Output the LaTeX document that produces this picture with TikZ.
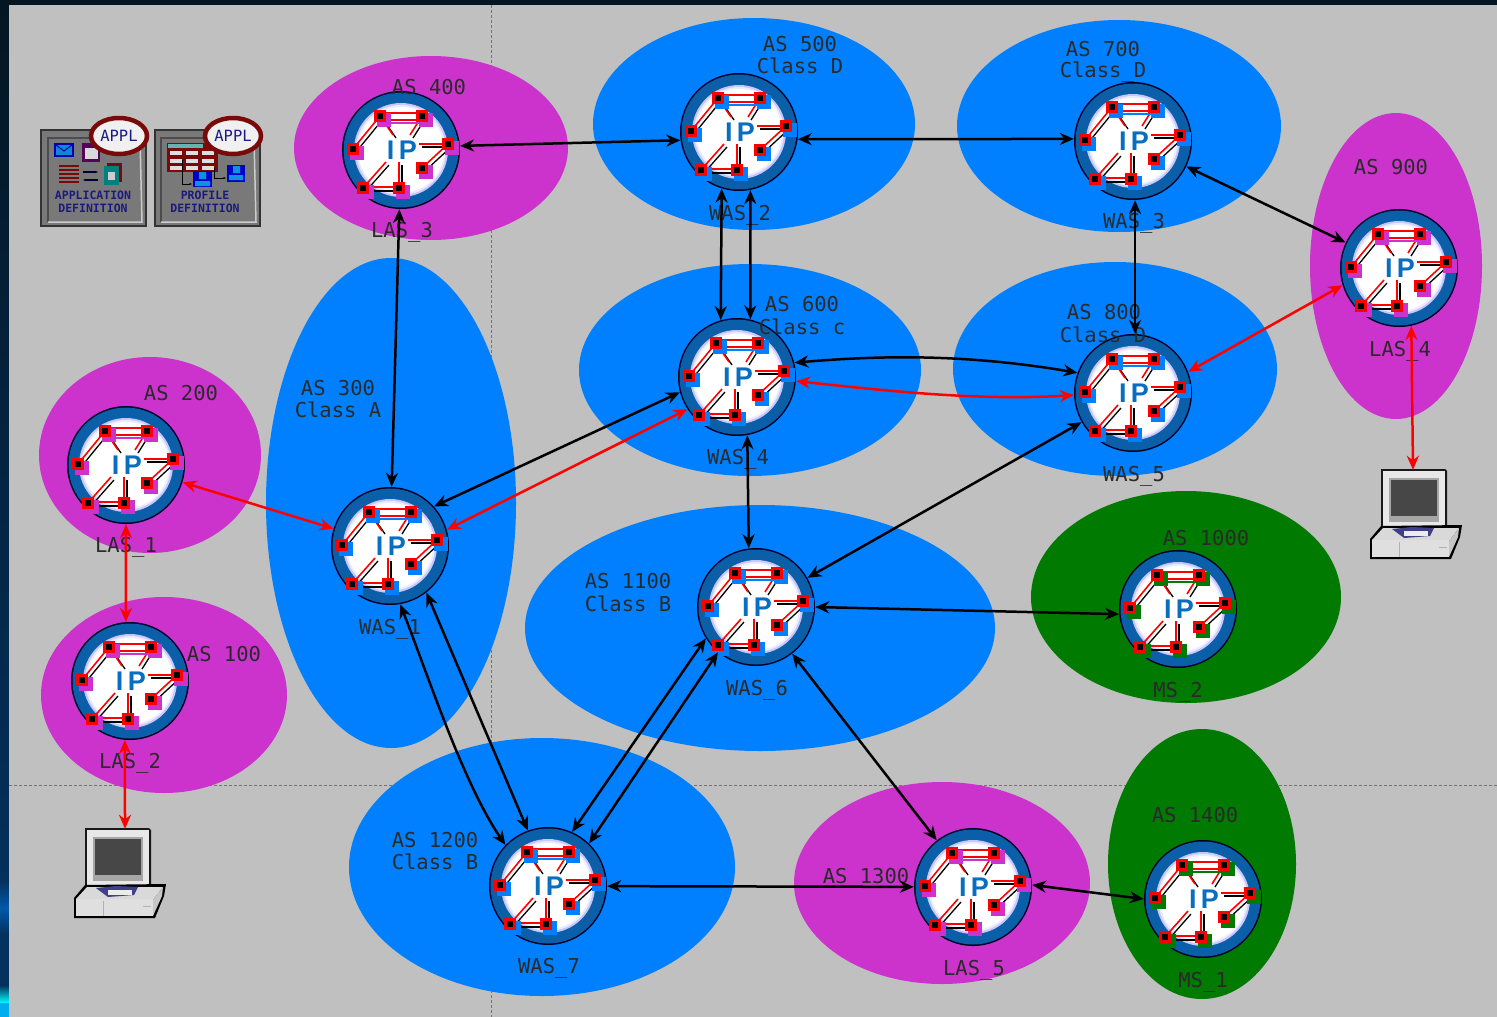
\documentclass[tikz,border=0pt]{standalone}
\usepackage{fontspec}
\setmainfont{DejaVu Sans Mono}
\newfontfamily\ipfont{Liberation Sans}
\usetikzlibrary{arrows.meta,shapes.geometric,bending}
\definecolor{bggray}{HTML}{C0C0C0}
\definecolor{asblue}{HTML}{0080FF}
\definecolor{asmag}{HTML}{CC33CC}
\definecolor{asgreen}{HTML}{007A00}
\definecolor{ringblue}{HTML}{0B5FA8}
\definecolor{ipblue}{HTML}{0A6EC0}
\definecolor{navytxt}{HTML}{1A1A80}
\definecolor{darkred}{HTML}{7A0A0A}
\definecolor{lblgray}{HTML}{2A2A2A}
\definecolor{edgedark}{HTML}{041622}
\definecolor{edgenavy}{HTML}{03305C}
\definecolor{edgeblue}{HTML}{0058A8}
\newcommand{\rsq}[3]{%
  \fill[#3] (#1-3,#2-3) rectangle ++(14,14);
  \fill[red] (#1-6,#2-6) rectangle ++(12,12);
  \fill[black] (#1-3,#2-3) rectangle ++(6,6);}
\tikzset{
  x=1pt,y=-1pt,
  asarea/.style={ellipse,draw=none,fill=#1,inner sep=0pt},
  routernode/.style={circle,minimum size=118pt,inner sep=0pt,draw=none},
  pcnode/.style={rectangle,minimum width=64pt,minimum height=56pt,inner sep=0pt,draw=none},
  lbl/.style={font=\fontsize{20.5}{21}\selectfont,text=lblgray,inner sep=0pt,align=left},
  link/.style={{Stealth[length=14pt,width=12pt]}-{Stealth[length=14pt,width=12pt]},line width=2.5pt,black},
  redlink/.style={link,red},
  defbox/.style={fill=gray!95!black,draw=black!80,line width=2pt},
  defname/.style={font=\fontsize{11.5}{12.5}\selectfont\bfseries,text=navytxt,align=center,inner sep=0pt},
  applname/.style={ellipse,draw=darkred,line width=4.5pt,fill=white!88!gray,minimum width=56pt,minimum height=36pt,inner sep=0pt,font=\fontsize{15.5}{15.5}\selectfont,text=navytxt},
  pics/router/.style={code={
    \fill[black!85!blue] (0,0) circle[radius=59pt];
    \fill[ringblue] (0,0) circle[radius=57.5pt];
    \fill[blue!22!white] (0,0) circle[radius=47pt];
    \fill[blue!8!white] (0,0) circle[radius=45pt];
    \fill[white] (0,0) circle[radius=43pt];
    \foreach \a/\b/\c/\d in {-21/-34/-48/-1,-21/-34/-8/-15,21/-34/9/-15,47/-6/18/-6,47/-6/21/18,-2/38/-2/12,-38/38/-15/12}{
      \draw[black,line width=1.3pt] (\a+3,\b+3) -- (\c+3,\d+3);
      \draw[red,line width=1.6pt] (\a,\b) -- (\c,\d);}
    \draw[red,line width=1.6pt] (-21,-37) -- (21,-37);
    \draw[red,line width=1.6pt] (-21,-30) -- (21,-30);
    \draw[#1,line width=1.6pt] (-21,-27) -- (21,-27);
    \draw[red,line width=1.6pt] (-38,37) -- (-2,37);
    \draw[black,line width=1.2pt] (-30,41) -- (-8,41);
    \rsq{-21}{-34}{#1}\rsq{21}{-34}{#1}\rsq{47}{-6}{#1}\rsq{21}{18}{#1}
    \rsq{-2}{38}{#1}\rsq{-38}{38}{#1}\rsq{-48}{-1}{#1}
    \node[font=\ipfont\bfseries\fontsize{27}{27}\selectfont,text=ipblue,inner sep=0pt] at (1,0) {I\,P};
  }},
  pics/desktop/.style={code={
    % origin = monitor centre
    \fill[black!90] (-33,-29) -- (31,-29) -- (33,-27) -- (33,29) -- (-33,29) -- cycle;
    \fill[gray!18] (-31,-27) rectangle (31,28);
    \fill[gray!70] (-25,-20) rectangle (25,24);
    \fill[black!72] (-23,-18) rectangle (23,18);
    \fill[black] (-44,41) -- (-33,28) -- (48,27) -- (46,39) -- (37,61) -- (-44,61) -- cycle;
    \fill[gray!30] (-42,42) -- (-31,30) -- (45,30) -- (35,43) -- cycle;
    \fill[gray!25] (-42,42) rectangle (35,59);
    \fill[gray!45] (35,43) -- (45,30) -- (44,39) -- (35,59) -- cycle;
    \fill[black!45!blue!50!gray] (-22,31) -- (-2,29) -- (20,30) -- (16,38) -- (-10,40) -- cycle;
    \fill[gray!15] (-10,33) rectangle (14,38);
    \draw[gray!60,line width=.6pt] (-15,44) -- (-15,59) (25,49) -- (33,49);
  }},
}
\begin{document}
\begin{tikzpicture}
\useasboundingbox (0,0) rectangle (1497,1017);
% background
\fill[edgedark] (0,0) rectangle (1497,5);
\shade[top color=edgedark,bottom color=edgenavy] (0,0) rectangle (9,880);
\shade[top color=edgenavy,bottom color=edgeblue] (0,880) rectangle (9,908);
\shade[top color=edgeblue,bottom color=edgenavy] (0,908) rectangle (9,935);
\fill[edgenavy] (0,935) rectangle (9,985);
\shade[top color=edgenavy,bottom color=cyan] (0,985) rectangle (9,1003);
\fill[cyan] (0,1003) rectangle (9,1017);
\fill[bggray] (9,5) rectangle (1497,1017);
\draw[black!55,line width=.7pt,dash pattern=on 3pt off 2pt] (491,5) -- (491,1017);
\draw[black!55,line width=.7pt,dash pattern=on 3pt off 2pt] (9,785) -- (1497,785);
% AS areas
\node[asarea=asmag,minimum width=274pt,minimum height=184pt] (as400) at (431,148) {};
\node[asarea=asblue,minimum width=322pt,minimum height=212pt] (as500) at (754,124) {};
\node[asarea=asblue,minimum width=324pt,minimum height=212pt] (as700) at (1119,126) {};
\node[asarea=asmag,minimum width=172pt,minimum height=306pt] (as900) at (1396,266) {};
\node[asarea=asblue,minimum width=250pt,minimum height=490pt] (as300) at (391,503) {};
\node[asarea=asblue,minimum width=342pt,minimum height=212pt] (as600) at (750,370) {};
\node[asarea=asblue,minimum width=324pt,minimum height=214pt] (as800) at (1115,369) {};
\node[asarea=asmag,minimum width=222pt,minimum height=196pt] (as200) at (150,455) {};
\node[asarea=asmag,minimum width=246pt,minimum height=196pt] (as100) at (164,695) {};
\node[asarea=asblue,minimum width=470pt,minimum height=246pt] (as1100) at (760,628) {};
\node[asarea=asgreen,minimum width=310pt,minimum height=212pt] (as1000) at (1186,597) {};
\node[asarea=asblue,minimum width=386pt,minimum height=258pt] (as1200) at (542,867) {};
\node[asarea=asmag,minimum width=296pt,minimum height=202pt] (as1300) at (942,883) {};
\node[asarea=asgreen,minimum width=188pt,minimum height=270pt] (as1400) at (1202,864) {};
% definition objects
\node[defbox,rectangle,minimum width=105pt,minimum height=96pt,inner sep=0pt] (appdef) at (93.5,178) {};
\node[defbox,rectangle,minimum width=105pt,minimum height=96pt,inner sep=0pt] (profdef) at (207,178) {};
\draw[black!70,line width=1.5pt] (48,222) -- (48,138) -- (140,138);
\draw[black!70,line width=1.5pt] (161,222) -- (161,138) -- (254,138);
\draw[gray!40,line width=1.5pt] (140,138) -- (142,222) -- (48,222);
\draw[gray!40,line width=1.5pt] (254,138) -- (256,222) -- (161,222);
\fill[blue!70!black] (54,143) rectangle (74,157);
\fill[cyan!70!blue] (56,145) rectangle (72,155);
\draw[blue!70!black,line width=1pt] (56,145) -- (64,151) -- (72,145);
\fill[violet!70!black] (82,143) rectangle (100,162);
\fill[gray!30] (85,148) rectangle (98,159);
\foreach \yy in {166,170,174,178,182}{\draw[darkred,line width=2.2pt] (59,\yy) -- (79,\yy);}
\draw[black!80!blue,line width=1.2pt,-{Stealth[length=3pt]}] (83,172) -- (98,172);
\draw[black!80!blue,line width=1.2pt,{Stealth[length=3pt]}-] (83,180) -- (98,180);
\fill[darkred] (107,163) rectangle (122,182);
\fill[teal] (104,166) rectangle (119,185);
\fill[gray!40] (108,172) rectangle (115,180);
\fill[darkred] (167,143) rectangle (218,172);
\fill[teal!60] (168,144) rectangle (203,148);
\foreach \xx in {170,186,202}{\foreach \yy in {151,159,166}{\fill[gray!25] (\xx,\yy) rectangle ++(12,4);}}
\draw[black,line width=1pt,-{Stealth[length=3pt]}] (182,160) -- (182,184) -- (192,184);
\draw[black,line width=1pt,-{Stealth[length=3pt]}] (214,168) -- (214,178) -- (226,178);
\fill[blue!80!black] (193,171) rectangle (212,187);
\fill[cyan!80!blue] (199,172) rectangle (206,179) (195,181) rectangle (210,186);
\fill[blue!80!black] (227,165) rectangle (245,182);
\fill[cyan!80!blue] (233,166) rectangle (240,173) (229,175) rectangle (243,180);
\node[defname] (apptxt) at (93,202) {APPLICATION\\DEFINITION};
\node[defname] (proftxt) at (205,202) {PROFILE\\DEFINITION};
\node[applname] (appl1) at (119,136) {APPL};
\node[applname] (appl2) at (233,136) {APPL};
% routers
\foreach \n/\px/\py/\sh in {
  las3/401/150/asmag, was2/739/132/asblue, was3/1133/141/asblue,
  las4/1399/268/asmag, was4/737/377/asblue, was5/1133/393/asblue,
  las1/126/465/asmag, was1/390/546/asblue, las2/130/681/asmag,
  was6/756/607/asblue, ms2/1178/609/asgreen, was7/548/886/asblue,
  las5/973/887/asmag, ms1/1203/899/asgreen}{
  \node[routernode] (\n) at (\px,\py) {};
  \pic at (\px,\py) {router=\sh};
}
% workstations
\node[pcnode] (pc1) at (118,857) {};
\pic at (118,857) {desktop};
\node[pcnode] (pc2) at (1414,498) {};
\pic at (1414,498) {desktop};
% labels
\foreach \p/\t in {
 {800,44}/AS 500,{800,66}/Class D,{1103,49}/AS 700,{1103,72}/Class\_D,
 {429,87}/AS 400,{1391,167}/AS 900,{802,304}/AS 600,{802,327}/Class c,{1104,312}/AS 800,{1103,335}/Class D,
 {338,388}/AS 300,{338,410}/Class A,{181,393}/AS 200,{224,654}/AS 100,{628,581}/AS 1100,
 {628,604}/Class B,{1206,538}/AS 1000,{435,840}/AS 1200,{435,862}/Class B,{866,876}/AS 1300,
 {1195,815}/AS 1400,
 {402,232}/LAS\_3,{740,215}/WAS\_2,{1134,223}/WAS\_3,{1400,351}/LAS\_4,{738,459}/WAS\_4,
 {1134,476}/WAS\_5,{126,547}/LAS\_1,{390,629}/WAS\_1,{130,763}/LAS\_2,{757,690}/WAS\_6,
 {1178,692}/MS\_2,{549,968}/WAS\_7,{974,970}/LAS\_5,{1203,982}/MS\_1}{
  \node[lbl] at (\p) {\t};
}
% links
\draw[link] (las3.4) -- (was2.188);
\draw[link] (las3) -- (was1);
\draw[link] (was2.-7) -- (was3.178);
\draw[link] (was3) -- (las4);
\draw[link] (was2.-107) -- (was4.106);
\draw[link] (was2.-79) -- (was4.77);
\draw[link] (was3.-88) -- (was5.88);
\draw[link] (was4.14) .. controls (870,356) and (960,352) .. (was5.160);
\draw[redlink] (was4.-4) .. controls (880,390) and (980,402) .. (was5.182);
\draw[redlink] (was5.21) -- (las4.197);
\draw[redlink] (las4.-78) -- (pc2.92);
\draw[link] (was4.195) -- (was1.42);
\draw[redlink] (was4.213) -- (was1.16);
\draw[redlink] (las1) -- (was1);
\draw[redlink] (las1.-90) -- (las2.94);
\draw[redlink] (las2.-95) -- (pc1.76);
\draw[link] (was4.-80) -- (was6.97);
\draw[link] (was5) -- (was6);
\draw[link] (was6.0) -- (ms2.185);
\draw[link] (was6.212) -- (was7.66);
\draw[link] (was6.230) -- (was7.46);
\draw[link] (was6) -- (las5);
\draw[link] (was1.-80) .. controls (430,680) and (465,790) .. (was7.136);
\draw[link] (was1.-52) -- (was7.110);
\draw[link] (was7) -- (las5);
\draw[link] (las5.2) -- (ms1.180);
\end{tikzpicture}
\end{document}
